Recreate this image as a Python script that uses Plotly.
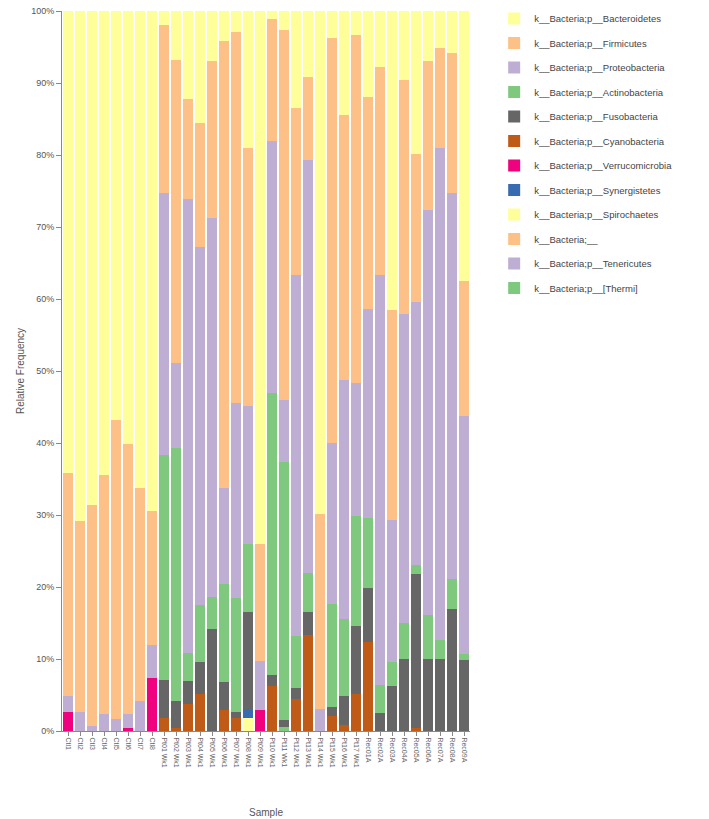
import plotly.graph_objects as go

samples = (
    [f"Ctl{i}" for i in range(1, 9)]
    + [f"Pt{i:02d} Wk1" for i in range(1, 18)]
    + [f"Rec{i:02d}A" for i in range(1, 10)]
)

# stacked bottom -> top (percent)
thermi        = [0,0,0,0,0,0,0,0, 0,0,0,0,0,0,0,0,0, 0,0.6,0,0,0,0,0,0,0,0,0,0,0,0,0,0,0]
tenericutes   = [0]*34
bacteria_unk  = [0]*34
spirochaetes  = [0,0,0,0,0,0,0,0, 0,0,0,0,0,0,0,1.8,0, 0,0,0,0,0,0,0,0,0,0,0,0,0,0,0,0,0]
synergistetes = [0,0,0,0,0,0,0,0, 0,0,0,0,0,0,0,1.1,0, 0,0,0,0,0,0,0,0,0,0,0,0,0,0,0,0,0]
verruco       = [2.6,0,0,0,0,0.4,0,7.3, 0,0,0,0,0,0,0,0,2.9, 0,0,0,0,0,0,0,0,0,0,0,0,0,0,0,0,0]
cyano         = [0,0,0,0,0,0,0,0, 1.8,0.4,3.8,5.1,0,2.9,1.8,0,0, 6.3,0,4.4,13.3,0,2.1,0.8,5.2,12.3,0,0,0,0.4,0,0,0,0]
fuso          = [0,0,0,0,0,0,0,0, 5.3,3.7,3.2,4.5,14.1,3.9,0.9,13.6,0, 1.5,0.9,1.6,3.2,0,1.2,4.1,9.4,7.5,2.5,6.2,10.0,21.4,10.0,10.0,16.9,9.9]
actino        = [0,0,0,0,0,0,0,0, 31.3,35.2,3.8,7.9,4.5,13.6,15.8,9.5,0, 39.2,35.9,7.2,5.4,0,14.3,10.6,15.3,9.8,3.9,3.4,5.0,1.2,6.1,2.6,4.2,0.8]
proteo        = [2.2,2.7,0.7,2.4,1.6,1.9,4.1,4.7, 36.3,11.8,63.1,49.7,52.6,13.3,27.1,19.1,6.8, 35.0,8.6,50.2,57.4,3.1,22.4,33.3,18.4,29.0,57.0,19.7,42.9,36.6,56.3,68.4,53.6,33.0]
firmi         = [31.1,26.5,30.7,33.2,41.6,37.6,29.7,18.5, 23.4,42.1,13.9,17.3,21.8,62.1,51.5,35.9,16.3, 16.9,51.4,23.1,11.5,27.1,56.2,36.7,48.4,29.4,28.8,29.2,32.5,20.6,20.7,13.9,19.5,18.8]
bactero       = [64.1,70.8,68.6,64.4,56.8,60.1,66.2,69.5, 1.9,6.8,12.2,15.5,7.0,4.2,2.9,19.0,74.0, 1.1,2.6,13.5,9.2,69.8,3.8,14.5,3.3,12.0,7.8,41.5,9.6,19.8,6.9,5.1,5.8,37.5]

series = [
    ("k__Bacteria;p__[Thermi]", thermi, "#7fc97f"),
    ("k__Bacteria;p__Tenericutes", tenericutes, "#beaed4"),
    ("k__Bacteria;__", bacteria_unk, "#fdc086"),
    ("k__Bacteria;p__Spirochaetes", spirochaetes, "#ffff99"),
    ("k__Bacteria;p__Synergistetes", synergistetes, "#386cb0"),
    ("k__Bacteria;p__Verrucomicrobia", verruco, "#f0027f"),
    ("k__Bacteria;p__Cyanobacteria", cyano, "#bf5b17"),
    ("k__Bacteria;p__Fusobacteria", fuso, "#666666"),
    ("k__Bacteria;p__Actinobacteria", actino, "#7fc97f"),
    ("k__Bacteria;p__Proteobacteria", proteo, "#beaed4"),
    ("k__Bacteria;p__Firmicutes", firmi, "#fdc086"),
    ("k__Bacteria;p__Bacteroidetes", bactero, "#ffff99"),
]

fig = go.Figure()
n = len(series)
for i, (name, vals, col) in enumerate(series):
    fig.add_trace(go.Bar(x=samples, y=vals, name=name, marker_color=col,
                         marker_line_width=0, legendgroup=f"g{i}",
                         legendrank=n - i))

font = "Liberation Sans, Arial, sans-serif"
fig.update_layout(
    width=709, height=819,
    barmode="stack", bargap=0.12,
    paper_bgcolor="white", plot_bgcolor="white",
    margin=dict(l=62, r=239, t=11, b=88),
    font=dict(family=font, size=9, color="#555"),
    legend=dict(xref="container", yref="container",
                x=0.697, xanchor="left", y=0.995, yanchor="top",
                traceorder="grouped", tracegroupgap=5.5,
                font=dict(size=9.5, color="#444")),
    xaxis=dict(tickangle=90, tickfont=dict(size=7, color="#666"),
               showline=True, linecolor="#888", ticks="outside", ticklen=4,
               tickcolor="#888", automargin=False,
               title=dict(text="Sample", font=dict(size=10, color="#555"), standoff=42)),
    yaxis=dict(range=[0, 100], dtick=10, ticksuffix="%", showgrid=False,
               showline=True, linecolor="#888", ticks="outside", ticklen=5,
               tickcolor="#888", zeroline=False, automargin=False,
               tickfont=dict(size=9, color="#555"),
               title=dict(text="Relative Frequency", font=dict(size=10, color="#555"), standoff=4)),
)

fig.write_html("out.html", config={"displayModeBar": False},
               post_script="document.body.style.margin='0';")
